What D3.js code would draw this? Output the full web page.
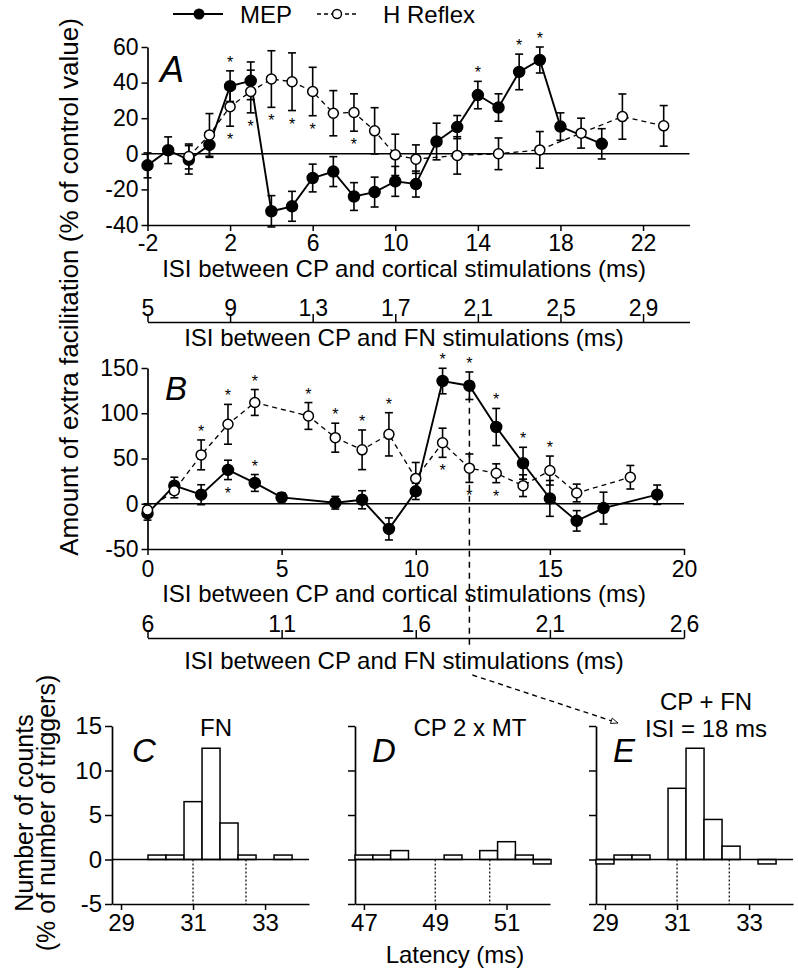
<!DOCTYPE html>
<html><head><meta charset="utf-8">
<script src="https://cdn.jsdelivr.net/npm/d3@7"></script>
<style>
body{margin:0;background:#fff;}
svg text{font-family:"Liberation Sans",Arial,Helvetica,sans-serif;fill:#000;}
</style></head><body>
<svg id="chart" width="798" height="974"></svg>
<script>
// ---------------- DATA ----------------
// Panel A
const aMepIsi = [-2,-1,0,1,2,3,4,5,6,7,8,9,10,11,12,13,14,15,16,17,18,20];
const aMepVal = [-6.5,2,-3.4,5,38,41,-32.3,-29.5,-13.6,-10,-24,-21.5,-15.5,-17,6.9,15,33,26,46,52.7,15.3,5.6];
const aMepErr = [7,7.5,8,7,8.6,10.6,8.8,8.4,7.8,8.4,7.8,8.4,8.4,7.3,10.3,6.5,7.7,7.7,10,7.3,7.7,8.5];
const aHIsi = [0,1,2,3,4,5,6,7,8,9,10,11,13,15,17,19,21,23];
const aHVal = [-1.5,10.6,26.5,35,42,40.5,35,22.8,23.2,12.9,-0.6,-3,-0.9,0,2.2,11.6,20.9,15.7];
const aHErr = [7,12,11,12,15.9,16.2,13.6,12.7,10.5,13,11.6,8,10.5,8.9,10.3,8.4,12.7,11.4];
const aMepStarsAbove = [2,14,16,17];
const aHStarsBelow = [2,3,4,5,6,8];
const aYTicks = [-40,-20,0,20,40,60];
const aCortTicks = [-2,2,6,10,14,18,22];
const aFnTicks = [5,9,13,17,21,25,29];
const aFnOffset = 7;

// Panel B
const bMepIsi = [0,1,2,3,4,5,7,8,9,10,11,12,13,14,15,16,17,19];
const bMepVal = [-10.7,20,10,37.4,23,7,1.1,4.4,-27.8,13.7,135.6,130.4,84.8,44.8,5.9,-18.9,-4.8,10];
const bMepErr = [7.4,9.3,11,10.7,9.3,5,7,10,12.2,9,14.1,15.2,20.5,17.6,19.8,11.3,17.6,10.7];
const bHIsi = [0,1,2,3,4,6,7,8,9,10,11,12,13,14,15,16,18];
const bHVal = [-7,14.4,54,87.8,111.9,97,73,59.6,76.7,28,67.4,39.3,33.7,20,36.7,11.9,29.3];
const bHErr = [7,7.8,16.5,22,14.3,14.8,16,21.9,23.9,17.6,16.1,15.7,10.4,12,16,9.8,13];
const bMepStarsAbove = [4,11,12,13,14];
const bMepStarsBelow = [3];
const bHStarsAbove = [2,3,4,6,7,8,9,15];
const bHStarsBelow = [11,12,13];
const bYTicks = [-50,0,50,100,150];
const bCortTicks = [0,5,10,15,20];
const bFnTicks = [6,11,16,21,26];
const bFnOffset = 6;
const bHighlightIsi = 12;

// Panels C, D, E (bin start, 0.5 ms bins)
const binWidth = 0.5;
const cBins = [29.75,30.25,30.75,31.25,31.75,32.25,32.75,33.25];
const cCounts = [0.5,0.5,6.5,12.5,4.1,0.5,0,0.5];
const cWindow = [31.0,32.47];
const dBins = [46.75,47.25,47.75,48.25,48.75,49.25,49.75,50.25,50.75,51.25,51.75];
const dCounts = [0.5,0.5,1,0,0,0.5,0,1,2,0.5,-0.5];
const dWindow = [49.0,50.53];
const eBins = [28.75,29.25,29.75,30.25,30.75,31.25,31.75,32.25,32.75,33.25];
const eCounts = [-0.5,0.5,0.5,0,8,12.5,4.5,1.5,0,-0.5];
const eWindow = [31.0,32.45];
const histYTicks = [-5,0,5,10,15];
const cTicks = [29,31,33];
const dTicks = [47,49,51];
const eTicks = [29,31,33];

// ---------------- DRAWING ----------------
const FONT = '"Liberation Sans", Arial, Helvetica, sans-serif';
const svg = d3.select("#chart");
const fmt = d => String(d);

function styleAxis(g, fs, sw) {
  g.attr("font-family", FONT).attr("font-size", fs);
  g.selectAll("path.domain").attr("stroke", "#000").attr("stroke-width", sw || 1.7);
  g.selectAll(".tick line").attr("stroke", "#000").attr("stroke-width", 1.5);
  g.selectAll(".tick text").attr("fill", "#000");
}
function label(txt, x, y, opts) {
  opts = opts || {};
  const t = svg.append("text").attr("x", x).attr("y", y)
    .attr("font-size", opts.size || 24)
    .attr("text-anchor", opts.anchor || "middle")
    .text(txt);
  if (opts.italic) t.attr("font-style", "italic");
  if (opts.rotate) t.attr("transform", `rotate(-90,${x},${y})`);
  return t;
}

function series(g, xs, vs, es, x, y, filled, dashed) {
  const pts = d3.zip(xs, vs, es);
  const eb = g.append("g").attr("stroke", "#000").attr("stroke-width", 1.6);
  eb.selectAll("line.v").data(pts).join("line")
    .attr("x1", d => x(d[0])).attr("x2", d => x(d[0]))
    .attr("y1", d => y(d[1] + d[2])).attr("y2", d => y(d[1] - d[2]));
  eb.selectAll("line.t").data(pts).join("line")
    .attr("x1", d => x(d[0]) - 4).attr("x2", d => x(d[0]) + 4)
    .attr("y1", d => y(d[1] + d[2])).attr("y2", d => y(d[1] + d[2]));
  eb.selectAll("line.b").data(pts).join("line")
    .attr("x1", d => x(d[0]) - 4).attr("x2", d => x(d[0]) + 4)
    .attr("y1", d => y(d[1] - d[2])).attr("y2", d => y(d[1] - d[2]));
  const line = d3.line().x(d => x(d[0])).y(d => y(d[1]));
  g.append("path").datum(pts).attr("d", line).attr("fill", "none")
    .attr("stroke", "#000").attr("stroke-width", dashed ? 1.3 : 1.9)
    .attr("stroke-dasharray", dashed ? "5,4" : null);
  return pts;
}
function dots(g, pts, x, y, filled) {
  g.selectAll(null).data(pts).join("circle")
    .attr("cx", d => x(d[0])).attr("cy", d => y(d[1]))
    .attr("r", filled ? 5.5 : 5)
    .attr("fill", filled ? "#000" : "#fff")
    .attr("stroke", "#000").attr("stroke-width", 1.5);
}
function stars(g, list, xs, vs, es, x, y, above) {
  const data = list.map(k => { const i = xs.indexOf(k); return [k, vs[i], es[i]]; });
  g.selectAll(null).data(data).join("text")
    .attr("x", d => x(d[0])).attr("text-anchor", "middle")
    .attr("y", d => above ? y(d[1] + d[2]) - 3 : y(d[1] - d[2]) + 19)
    .attr("font-size", 16).attr("fill", "#000").text("*");
}
function fnAxis(g, scale, ticks, yPos) {
  const ax = g.append("g").attr("transform", `translate(0,${yPos})`)
    .call(d3.axisTop(scale).tickValues(ticks).tickFormat(fmt).tickSize(8).tickSizeOuter(0).tickPadding(-2));
  styleAxis(ax, 23);
  ax.selectAll(".tick text").attr("letter-spacing", 4).attr("dx", 2);
  return ax;
}

// ---------- Legend ----------
{
  const lg = svg.append("g");
  lg.append("line").attr("x1", 173).attr("x2", 223).attr("y1", 14).attr("y2", 14)
    .attr("stroke", "#000").attr("stroke-width", 1.9);
  lg.append("circle").attr("cx", 199).attr("cy", 14).attr("r", 5.5).attr("fill", "#000");
  label("MEP", 240, 22.5, {anchor: "start"});
  lg.append("line").attr("x1", 317).attr("x2", 357).attr("y1", 14).attr("y2", 14)
    .attr("stroke", "#000").attr("stroke-width", 1.3).attr("stroke-dasharray", "4,3");
  lg.append("circle").attr("cx", 337).attr("cy", 14).attr("r", 4.5).attr("fill", "#fff")
    .attr("stroke", "#000").attr("stroke-width", 1.4);
  label("H Reflex", 383, 22.5, {anchor: "start"});
}

// ---------- Panel A ----------
const xA = d3.scaleLinear().domain([-2, 24.25]).range([147.5, 689.5]);
const yA = d3.scaleLinear().domain([-40, 60]).range([225, 47]);
const xAfn = d3.scaleLinear().domain(xA.domain().map(d => d + aFnOffset)).range(xA.range());
{
  const g = svg.append("g");
  g.append("line").attr("x1", xA.range()[0]).attr("x2", xA.range()[1])
    .attr("y1", yA(0)).attr("y2", yA(0)).attr("stroke", "#000").attr("stroke-width", 1.6);
  const ay = g.append("g").attr("transform", `translate(${xA.range()[0]},0)`)
    .call(d3.axisLeft(yA).tickValues(aYTicks).tickFormat(fmt).tickSize(6).tickSizeOuter(0).tickPadding(3));
  styleAxis(ay, 23);
  const ax = g.append("g").attr("transform", `translate(0,${yA.range()[0]})`)
    .call(d3.axisBottom(xA).tickValues(aCortTicks).tickFormat(fmt).tickSize(6).tickSizeOuter(0).tickPadding(4));
  styleAxis(ax, 23);
  fnAxis(g, xAfn, aFnTicks, 322);
  label("ISI between CP and cortical stimulations (ms)", 404, 277);
  label("ISI between CP and FN stimulations (ms)", 404, 346);
  label("A", 160, 82, {anchor: "start", italic: true, size: 36});

  const pm = series(g, aMepIsi, aMepVal, aMepErr, xA, yA, true, false);
  const ph = series(g, aHIsi, aHVal, aHErr, xA, yA, false, true);
  dots(g, pm, xA, yA, true);
  dots(g, ph, xA, yA, false);
  stars(g, aMepStarsAbove, aMepIsi, aMepVal, aMepErr, xA, yA, true);
  stars(g, aHStarsBelow, aHIsi, aHVal, aHErr, xA, yA, false);
}

// ---------- Panel B ----------
const xB = d3.scaleLinear().domain([0, 20]).range([147.5, 684]);
const yB = d3.scaleLinear().domain([-50, 150]).range([549, 368]);
const xBfn = d3.scaleLinear().domain(xB.domain().map(d => d + bFnOffset)).range(xB.range());
{
  const g = svg.append("g");
  g.append("line").attr("x1", xB.range()[0]).attr("x2", xB.range()[1])
    .attr("y1", yB(0)).attr("y2", yB(0)).attr("stroke", "#000").attr("stroke-width", 1.6);
  const hi = bMepIsi.indexOf(bHighlightIsi);
  g.append("line").attr("x1", xB(bHighlightIsi)).attr("x2", xB(bHighlightIsi))
    .attr("y1", yB(bMepVal[hi])).attr("y2", 645)
    .attr("stroke", "#000").attr("stroke-width", 1.5).attr("stroke-dasharray", "6,5");
  const by = g.append("g").attr("transform", `translate(${xB.range()[0]},0)`)
    .call(d3.axisLeft(yB).tickValues(bYTicks).tickFormat(fmt).tickSize(6).tickSizeOuter(0).tickPadding(3));
  styleAxis(by, 23);
  const bx = g.append("g").attr("transform", `translate(0,${yB.range()[0]})`)
    .call(d3.axisBottom(xB).tickValues(bCortTicks).tickFormat(fmt).tickSize(6).tickSizeOuter(0).tickPadding(6));
  styleAxis(bx, 23);
  fnAxis(g, xBfn, bFnTicks, 638);
  label("ISI between CP and cortical stimulations (ms)", 404, 602);
  label("ISI between CP and FN stimulations (ms)", 404, 668.5);
  label("B", 165, 400, {anchor: "start", italic: true, size: 33});

  const pm = series(g, bMepIsi, bMepVal, bMepErr, xB, yB, true, false);
  const ph = series(g, bHIsi, bHVal, bHErr, xB, yB, false, true);
  dots(g, pm, xB, yB, true);
  dots(g, ph, xB, yB, false);
  stars(g, bMepStarsAbove, bMepIsi, bMepVal, bMepErr, xB, yB, true);
  stars(g, bMepStarsBelow, bMepIsi, bMepVal, bMepErr, xB, yB, false);
  stars(g, bHStarsAbove, bHIsi, bHVal, bHErr, xB, yB, true);
  stars(g, bHStarsBelow, bHIsi, bHVal, bHErr, xB, yB, false);

  // dashed arrow to panel E
  svg.append("defs").append("marker").attr("id", "arr").attr("viewBox", "0 0 10 10")
    .attr("refX", 10).attr("refY", 5).attr("markerWidth", 9).attr("markerHeight", 7)
    .attr("orient", "auto").attr("markerUnits", "userSpaceOnUse")
    .append("path").attr("d", "M0,1 L10,5 L0,9 Z").attr("fill", "#fff").attr("stroke", "#000").attr("stroke-width", 1.2);
  g.append("line").attr("x1", xB(bHighlightIsi) + 3).attr("y1", 675)
    .attr("x2", 618).attr("y2", 723)
    .attr("stroke", "#000").attr("stroke-width", 1.4).attr("stroke-dasharray", "5,4")
    .attr("marker-end", "url(#arr)");
}

// ---------- Histograms ----------
const yH = d3.scaleLinear().domain([-5, 15]).range([904, 726]);
function hist(x, bins, counts, win, ticks, showY, letter, letterX) {
  const g = svg.append("g");
  const ay = g.append("g").attr("transform", `translate(${x.range()[0]},0)`)
    .call(d3.axisLeft(yH).tickValues(histYTicks).tickFormat(showY ? fmt : () => "").tickSize(7).tickSizeOuter(0).tickPadding(3));
  styleAxis(ay, 24);
  const ax = g.append("g").attr("transform", `translate(0,${yH.range()[0]})`)
    .call(d3.axisBottom(x).tickValues(ticks).tickFormat(fmt).tickSize(6).tickSizeOuter(0).tickPadding(4));
  styleAxis(ax, 24);
  const data = d3.zip(bins, counts).filter(d => d[1] !== 0);
  g.selectAll(null).data(data).join("rect")
    .attr("x", d => x(d[0])).attr("width", d => x(d[0] + binWidth) - x(d[0]))
    .attr("y", d => yH(Math.max(0, d[1]))).attr("height", d => Math.abs(yH(d[1]) - yH(0)))
    .attr("fill", "#fff").attr("stroke", "#000").attr("stroke-width", 1.5);
  g.append("line").attr("x1", x.range()[0]).attr("x2", x.range()[1])
    .attr("y1", yH(0)).attr("y2", yH(0)).attr("stroke", "#000").attr("stroke-width", 1.6);
  g.selectAll(null).data(win).join("line")
    .attr("x1", d => x(d)).attr("x2", d => x(d)).attr("y1", yH(0)).attr("y2", yH(-5))
    .attr("stroke", "#000").attr("stroke-width", 1.2).attr("stroke-dasharray", "2,2");
  label(letter, letterX, 762, {anchor: "start", italic: true, size: 33});
}
const xC = d3.scaleLinear().domain([28.75, 34.22]).range([112, 309]);
const xD = d3.scaleLinear().domain([46.75, 52.22]).range([355, 550]);
const xE = d3.scaleLinear().domain([28.75, 34.22]).range([596, 793]);
hist(xC, cBins, cCounts, cWindow, cTicks, true, "C", 132);
hist(xD, dBins, dCounts, dWindow, dTicks, false, "D", 372);
hist(xE, eBins, eCounts, eWindow, eTicks, false, "E", 613);
label("FN", 216, 736);
label("CP 2 x MT", 470, 736);
label("CP + FN", 706, 710);
label("ISI = 18 ms", 706, 737);
label("Latency (ms)", 455, 963);

// Y titles
label("Amount of extra facilitation (% of control value)", 78, 287, {rotate: true, size: 26});
label("Number of counts", 33, 813, {rotate: true, size: 25});
label("(% of number of triggers)", 55, 813, {rotate: true, size: 25});
</script>
</body></html>
